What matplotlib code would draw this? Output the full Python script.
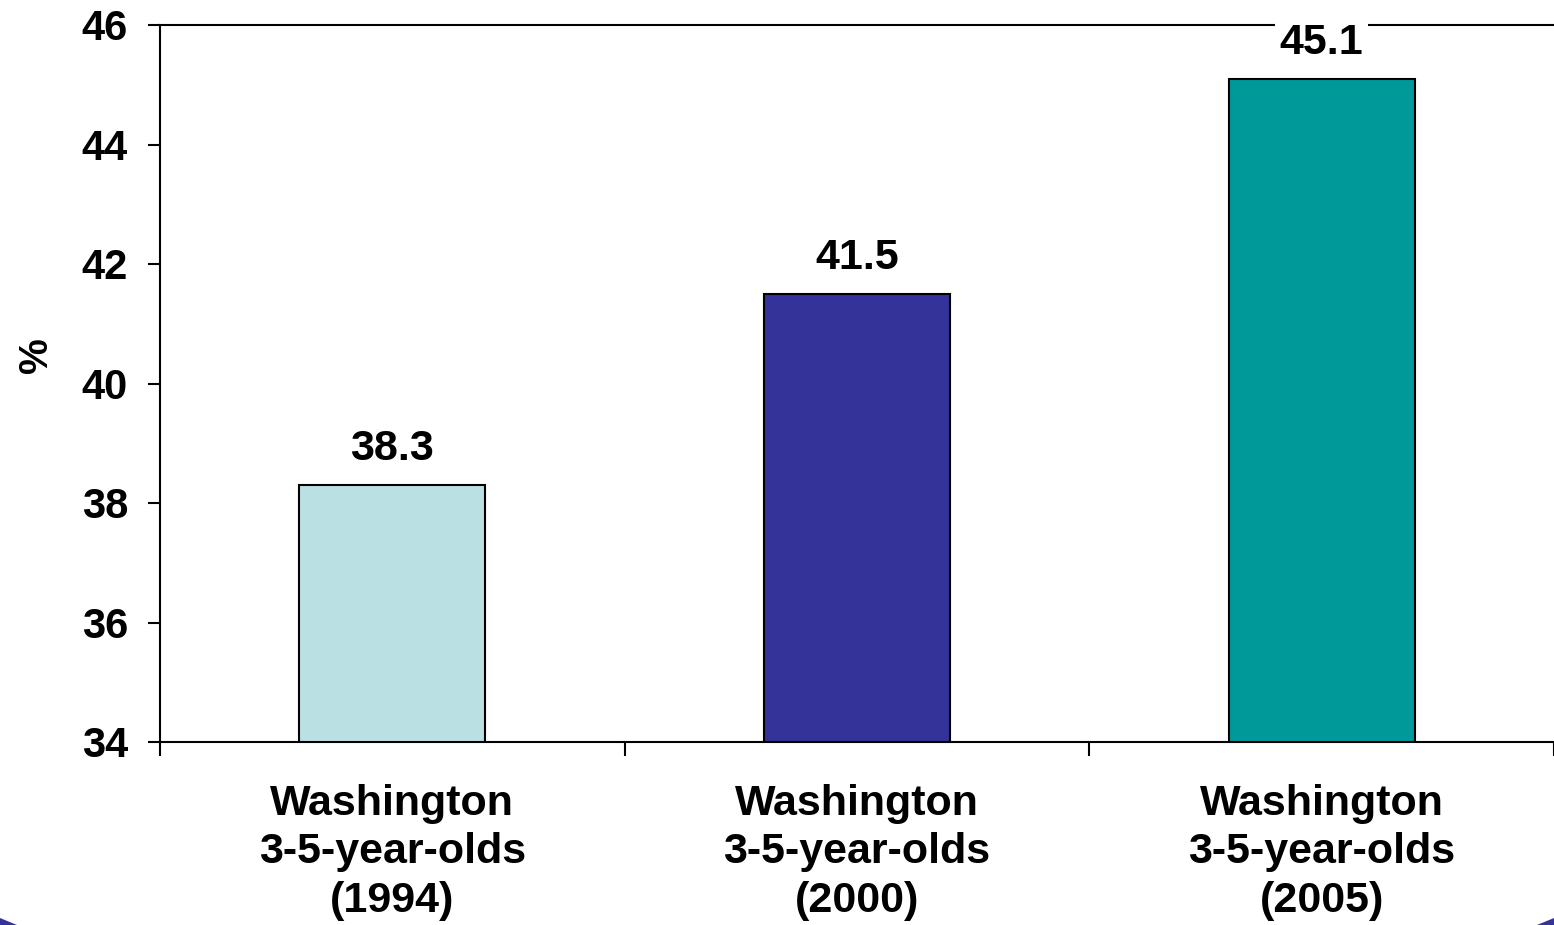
import matplotlib.pyplot as plt
from matplotlib.patches import Polygon

categories = ["Washington\n3-5-year-olds\n(1994)",
              "Washington\n3-5-year-olds\n(2000)",
              "Washington\n3-5-year-olds\n(2005)"]
values = [38.3, 41.5, 45.1]
colors = ["#BBE0E3", "#333399", "#009999"]
yticks = [34, 36, 38, 40, 42, 44, 46]

plt.rcParams["font.family"] = ["Liberation Sans", "DejaVu Sans"]
plt.rcParams["font.weight"] = "bold"

fig = plt.figure(figsize=(15.54, 9.25), dpi=100)
ax = fig.add_axes([160 / 1554, 183 / 925, 1 - 160 / 1554, 717 / 925])

x = range(len(values))
bars = ax.bar(x, [v - 34 for v in values], bottom=34, width=0.4,
              color=colors, edgecolor="black", linewidth=1.5, zorder=3)

for xi, v in zip(x, values):
    ax.annotate(f"{v:.1f}", (xi, v), xytext=(0, 26), textcoords="offset points",
                ha="center", va="center", fontsize=31, fontweight="bold",
                bbox=dict(facecolor="white", edgecolor="none", pad=3),
                zorder=5, annotation_clip=False)

ax.set_xlim(-0.5, 2.5)
ax.set_ylim(34, 46)
ax.set_yticks(yticks)
ax.set_yticklabels([str(t) for t in yticks], fontsize=30, fontweight="bold")
ax.set_xticks([-0.5, 0.5, 1.5, 2.5])
ax.set_xticklabels([])
ax.set_xticks(list(x), minor=True)
ax.set_xticklabels(categories, minor=True, fontsize=31, fontweight="bold",
                   linespacing=1.28)
ax.tick_params(axis="x", which="minor", length=0, pad=30)
ax.tick_params(axis="x", which="major", length=10, width=1.5, direction="out")
ax.tick_params(axis="y", length=9, width=1.5, direction="out", pad=14)

ax.spines["right"].set_visible(False)
for s in ["left", "bottom", "top"]:
    ax.spines[s].set_linewidth(1.5)
ax.set_ylabel("%", fontsize=29, fontweight="bold")
ax.yaxis.set_label_coords(-0.075, 0.54)

# slide decoration in bottom corners
fig.patches.append(Polygon([[0, 0], [0, 7 / 925], [17 / 1554, 0]],
                           closed=True, transform=fig.transFigure,
                           facecolor="#333399", edgecolor="none"))
fig.patches.append(Polygon([[1, 0], [1, 7 / 925], [1 - 17 / 1554, 0]],
                           closed=True, transform=fig.transFigure,
                           facecolor="#333399", edgecolor="none"))

fig.savefig("out.png", dpi=100)
